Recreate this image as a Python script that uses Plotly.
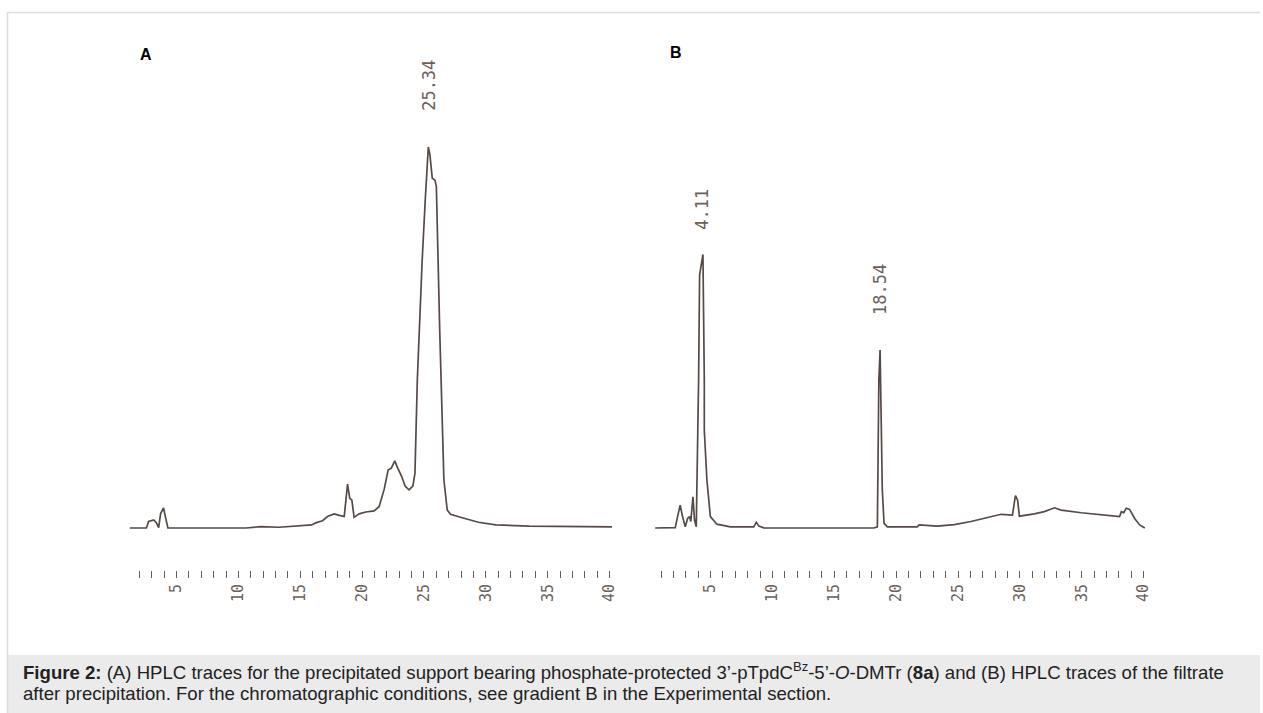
import plotly.graph_objects as go

# ---------------- data ----------------
# Panel A: retention time (min) and detector signal (relative units)
time_a = [1.21, 2.56, 2.74, 2.96, 3.15, 3.36, 3.55, 3.71, 3.95, 4.09, 4.30, 10.6, 11.8, 13.3,
          15.2, 15.9, 16.3, 16.8, 17.2, 17.74, 18.15, 18.55, 18.82, 19.0, 19.17, 19.35, 19.76,
          20.3, 20.97, 21.37, 21.77, 22.1, 22.36, 22.64, 22.85, 23.2, 23.47, 23.79, 24.1, 24.27,
          24.46, 24.6, 24.85, 25.1, 25.35, 25.48, 25.67, 25.89, 26.0, 26.27, 26.4, 26.61, 26.88,
          27.15, 28.09, 29.4, 30.8, 33.5, 40.2]
signal_a = [0.0, 0.0, 1.7, 1.9, 2.1, 1.4, 0.1, 3.8, 5.3, 3.0, 0.0, 0.0, 0.35, 0.2,
            0.5, 0.8, 1.4, 1.9, 3.0, 3.7, 3.3, 3.0, 11.5, 7.8, 7.3, 2.8, 3.7,
            4.2, 4.5, 5.6, 10.0, 15.2, 15.7, 17.6, 15.9, 13.5, 11.0, 10.0, 11.0, 14.4,
            38.8, 52.0, 70.0, 86.0, 100.0, 97.9, 91.8, 91.3, 89.6, 52.0, 38.8, 12.6, 4.7,
            3.6, 2.7, 1.5, 0.8, 0.5, 0.3]

# Panel B
time_b = [0.52, 2.14, 2.33, 2.54, 2.73, 2.95, 3.14, 3.30, 3.40, 3.57, 3.70, 3.84, 4.03, 4.08,
          4.11, 4.38, 4.42, 4.49, 4.49, 4.70, 4.98, 5.51, 6.6, 8.48, 8.7, 8.9, 9.3, 14.97,
          18.2, 18.48, 18.56, 18.6, 18.7, 18.8, 18.88, 19.02, 19.29, 21.7, 21.86, 23.3, 24.7,
          26.04, 27.4, 28.48, 29.4, 29.64, 29.82, 29.96, 31.17, 31.98, 32.8, 33.34, 34.96,
          37.1, 38.06, 38.2, 38.4, 38.6, 38.87, 39.28, 39.68, 40.1]
signal_b = [0.0, 0.1, 3.0, 6.0, 3.0, 0.35, 2.5, 3.0, 1.7, 8.2, 2.1, 0.35, 38.8, 52.0,
            66.4, 71.8, 62.0, 38.8, 25.7, 12.6, 3.0, 1.0, 0.3, 0.3, 1.5, 0.5, 0.05, 0.1,
            0.0, 0.3, 21.3, 38.8, 46.7, 30.0, 10.0, 1.2, 0.3, 0.3, 0.8, 0.5, 0.9,
            1.7, 2.8, 3.6, 3.4, 8.5, 7.3, 3.1, 3.7, 4.3, 5.3, 4.7, 4.0,
            3.4, 3.0, 4.3, 4.0, 5.2, 4.9, 2.5, 0.8, 0.0]

# axis ticks
major_ticks = [5, 10, 15, 20, 25, 30, 35, 40]
minor_ticks_a = list(range(2, 41))
minor_ticks_b = list(range(1, 41))

# peak labels: (text, drawn x, drawn y)
peaks_a = [("25.34", 25.4, 116.3)]
peaks_b = [("4.11", 4.35, 83.7), ("18.54", 18.7, 62.5)]

caption_1 = ("<b>Figure 2:</b> (A) HPLC traces for the precipitated support bearing phosphate-protected "
             "3’-pTpdC<sup>Bz</sup>-5’-<i>O</i>-DMTr (<b>8a</b>) and (B) HPLC traces of the filtrate")
caption_2 = "after precipitation. For the chromatographic conditions, see gradient B in the Experimental section."

# ---------------- layout helpers ----------------
W, H = 1263, 713
def fx(px):
    return px / W
def fy(py):
    return 1 - py / H

line_col = "#554a45"
tick_col = "#6b5f5a"
mono = "DejaVu Sans Mono"

fig = go.Figure()
fig.add_trace(go.Scatter(x=time_a, y=signal_a, mode="lines", xaxis="x", yaxis="y",
                         line=dict(color=line_col, width=1.7), hoverinfo="skip", showlegend=False))
fig.add_trace(go.Scatter(x=time_b, y=signal_b, mode="lines", xaxis="x2", yaxis="y2",
                         line=dict(color=line_col, width=1.7), hoverinfo="skip", showlegend=False))

# pixel calibration (12.4 px per minute, baseline at y=528 px, 3.81 px per unit)
ppm = 12.4
a0 = 115.0      # px of t=0 in panel A
b0 = 650.3      # px of t=0 in panel B
ra = [1.15, 40.5]
rb = [0.5, 40.5]
y_bottom_px, y_top_px, base_px, ppu = 570, 40, 528, 3.81
yr = [-(y_bottom_px - base_px) / ppu, (base_px - y_top_px) / ppu]
ydom = [fy(y_bottom_px), fy(y_top_px)]

def xaxis_cfg(rng, t0, minor_vals):
    return dict(range=rng, domain=[fx(t0 + rng[0] * ppm), fx(t0 + rng[1] * ppm)],
                showgrid=False, zeroline=False, showline=False,
                tickmode="array", tickvals=major_ticks, ticktext=[str(v) for v in major_ticks],
                ticks="outside", ticklen=7, tickwidth=1.2, tickcolor=tick_col,
                tickangle=-90, tickfont=dict(family=mono, size=15, color=tick_col),
                minor=dict(tickmode="array", tickvals=minor_vals, ticks="outside",
                           ticklen=7, tickwidth=1.2, tickcolor=tick_col),
                fixedrange=True)

yaxis_base = dict(range=yr, domain=ydom, showgrid=False, zeroline=False, showline=False,
                  showticklabels=False, ticks="", fixedrange=True)

annotations = []
for txt, x, y in peaks_a:
    annotations.append(dict(x=x, y=y, xref="x", yref="y", text=txt, showarrow=False,
                            textangle=-90, font=dict(family=mono, size=17, color=tick_col)))
for txt, x, y in peaks_b:
    annotations.append(dict(x=x, y=y, xref="x2", yref="y2", text=txt, showarrow=False,
                            textangle=-90, font=dict(family=mono, size=17, color=tick_col)))

annotations += [
    dict(x=fx(138), y=fy(55), xref="paper", yref="paper", text="<b>A</b>", showarrow=False,
         xanchor="left", yanchor="middle", font=dict(family="Liberation Sans", size=16, color="#000")),
    dict(x=fx(670), y=fy(52), xref="paper", yref="paper", text="<b>B</b>", showarrow=False,
         xanchor="left", yanchor="middle", font=dict(family="Liberation Sans", size=16, color="#000")),
    dict(x=fx(21), y=fy(671), xref="paper", yref="paper", showarrow=False,
         xanchor="left", yanchor="middle", text=caption_1,
         font=dict(family="Liberation Sans", size=18.6, color="#222")),
    dict(x=fx(21), y=fy(693), xref="paper", yref="paper", showarrow=False,
         xanchor="left", yanchor="middle", text=caption_2,
         font=dict(family="Liberation Sans", size=18.6, color="#222")),
]

shapes = [
    dict(type="rect", xref="paper", yref="paper", x0=fx(7), x1=1, y0=0, y1=fy(655),
         fillcolor="#ebebeb", line=dict(width=0), layer="below"),
    dict(type="line", xref="paper", yref="paper", x0=fx(7.5), x1=fx(7.5), y0=0, y1=fy(12),
         line=dict(color="#dddddd", width=1.5)),
    dict(type="line", xref="paper", yref="paper", x0=fx(7), x1=1, y0=fy(12.5), y1=fy(12.5),
         line=dict(color="#dddddd", width=1.5)),
]

fig.update_layout(
    width=W, height=H, autosize=False,
    margin=dict(l=0, r=0, t=0, b=0),
    paper_bgcolor="white", plot_bgcolor="rgba(0,0,0,0)",
    xaxis=xaxis_cfg(ra, a0, minor_ticks_a),
    xaxis2=xaxis_cfg(rb, b0, minor_ticks_b),
    yaxis=dict(yaxis_base, anchor="x"),
    yaxis2=dict(yaxis_base, anchor="x2"),
    annotations=annotations, shapes=shapes,
    showlegend=False,
)
fig.update_layout(xaxis=dict(anchor="y"), xaxis2=dict(anchor="y2"))

fig.write_html("out.html", config={"displayModeBar": False},
               post_script="document.body.style.margin='0';document.body.style.padding='0';"
                           "document.documentElement.style.overflow='hidden';")
